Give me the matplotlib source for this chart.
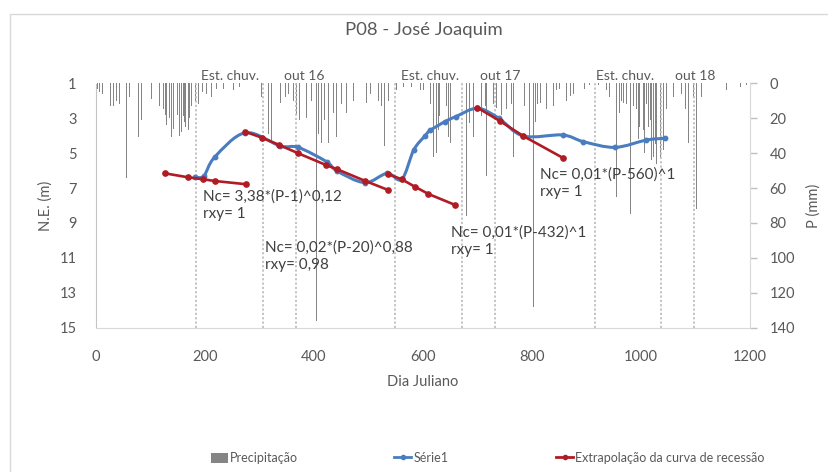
import numpy as np
import matplotlib
matplotlib.use("Agg")
import matplotlib.pyplot as plt
from matplotlib.path import Path
from matplotlib.patches import PathPatch, Rectangle, Patch
from matplotlib.lines import Line2D

plt.rcParams['font.family'] = ['Lato', 'DejaVu Sans']

# ---------------- data ----------------
precip_day = [2, 7, 12, 26, 32, 37, 43, 56, 62, 68, 78, 84, 99, 102, 117, 124, 127, 130, 135, 139,
              142, 145, 149, 153, 157, 160, 163, 165, 169, 172, 176, 182, 188, 196, 203, 212, 221, 234, 252, 264,
              304, 310, 316, 322, 332, 338, 347, 353, 362, 368, 373, 378, 386, 395, 404, 408, 414, 420, 426, 435,
              442, 451, 460, 466, 472, 488, 497, 503, 512, 518, 524, 530, 536, 552, 564, 579, 595, 601,
              613, 620, 625, 628, 631, 643, 646, 650, 668, 680, 686, 692, 699, 708, 714, 717, 729, 735, 744, 754,
              763, 766, 778, 787, 796, 802, 806, 810, 815, 827, 839, 845, 851, 864, 870, 876, 897, 906, 922, 937,
              943, 955, 961, 965, 968, 974, 980, 986, 989, 992, 995, 998, 1004, 1007, 1010, 1013, 1017, 1020, 1023,
              1026, 1029, 1035, 1041, 1044, 1047, 1059, 1075, 1081, 1087, 1096, 1102, 1111, 1121, 1145, 1157, 1182, 1194]
precip_mm = [3, 5, 6, 13, 13, 10, 12, 54, 8, 10, 31, 21, 10, 9, 13, 15, 18, 24, 20, 31,
             26, 23, 18, 30, 28, 19, 22, 25, 27, 20, 13, 10, 12, 5, 6, 8, 3, 3, 4, 2,
             8, 42, 29, 33, 15, 11, 8, 6, 10, 18, 21, 25, 20, 10, 136, 29, 34, 21, 34, 17,
             31, 12, 17, 25, 10, 12, 11, 6, 8, 10, 13, 36, 10, 4, 2, 2, 4, 4,
             12, 42, 40, 27, 19, 13, 31, 34, 21, 76, 23, 31, 25, 19, 13, 53, 12, 14, 18, 15,
             12, 42, 15, 13, 31, 128, 22, 12, 11, 15, 13, 4, 3, 10, 7, 6, 3, 1, 1, 4,
             8, 65, 17, 10, 11, 12, 75, 13, 15, 15, 32, 25, 27, 40, 12, 25, 21, 44, 42,
             35, 46, 42, 38, 23, 15, 8, 6, 15, 34, 8, 72, 8, 4, 8, 4, 2, 1]

serie_day = [182, 198, 218, 274, 338, 371, 423, 442, 493, 534, 561, 583, 604, 613, 640, 660,
             700, 739, 784, 856, 894, 952, 1010, 1044]
serie_ne = [6.38, 6.3, 5.22, 3.83, 4.59, 4.67, 5.49, 6.02, 6.69, 6.16, 6.5, 4.82, 4.0, 3.7, 3.2, 2.91,
            2.43, 3.0, 4.02, 3.96, 4.34, 4.67, 4.25, 4.15]

rec1_day = [127, 168, 197, 219, 275]
rec1_ne = [6.16, 6.38, 6.5, 6.6, 6.78]
rec2_day = [273, 304, 336, 371, 422, 443, 493, 535]
rec2_ne = [3.77, 4.11, 4.53, 5.01, 5.68, 5.93, 6.58, 7.1]
rec3_day = [536, 561, 585, 610, 659]
rec3_ne = [6.2, 6.5, 6.92, 7.34, 7.97]
rec4_day = [700, 741, 784, 856]
rec4_ne = [2.4, 3.16, 4.02, 5.26]

season_lines = [183, 306, 367, 549, 671, 733, 915, 1036, 1097]
season_labels = ["Est. chuv.", "out 16", "Est. chuv.", "out 17", "Est. chuv.", "out 18"]
season_label_day = [246, 383, 613, 742, 970, 1100]

eq_texts = ["Nc= 3,38*(P-1)^0,12\nrxy= 1",
            "Nc= 0,02*(P-20)^0,88\nrxy= 0,98",
            "Nc= 0,01*(P-432)^1\nrxy= 1",
            "Nc= 0,01*(P-560)^1\nrxy= 1"]
eq_day = [196, 310, 652, 815]
eq_ne = [7.97, 10.89, 10.07, 6.73]

x_ticks = [0, 200, 400, 600, 800, 1000, 1200]
ne_ticks = [1, 3, 5, 7, 9, 11, 13, 15]
p_ticks = [0, 20, 40, 60, 80, 100, 120, 140]

legend_labels = ['Precipitação', 'Série1', 'Extrapolação da curva de recessão']

# ---------------- figure ----------------
W, H = 829, 472
fig = plt.figure(figsize=(W / 100, H / 100), dpi=100)
fig.patch.set_facecolor('white')

# outer frame of the chart
fig.patches.append(Rectangle((10 / W, -0.01), 1.0, (H - 14) / H + 0.01, transform=fig.transFigure,
                             fill=False, edgecolor='#D9D9D9', linewidth=1.0))

left, right = 96 / W, 750 / W
top, bottom = (H - 83.3) / H, (H - 327.7) / H
ax = fig.add_axes([left, bottom, right - left, top - bottom])
ax2 = ax.twinx()
ax.set_zorder(ax2.get_zorder() + 1)
ax.patch.set_visible(False)

grey_txt = '#595959'
bar_col = '#858585'

# precipitation on right axis (inverted)
ax2.bar(precip_day, precip_mm, width=1.6, color=bar_col, linewidth=0, align='center')
ax2.set_ylim(140, 0)
ax2.set_yticks(p_ticks)
ax2.tick_params(axis='y', colors='#BFBFBF', labelcolor=grey_txt, labelsize=10.5,
                length=5, width=1, pad=9)
ax2.set_ylabel('P (mm)', color=grey_txt, fontsize=10.5, labelpad=8)
for s in ['top', 'left', 'bottom']:
    ax2.spines[s].set_visible(False)
ax2.spines['right'].set_color('#D9D9D9')

# primary axis
ax.set_xlim(0, 1200)
ax.set_ylim(15, 1)
ax.set_xticks(x_ticks)
ax.set_yticks(ne_ticks)
ax.tick_params(axis='both', length=0, labelcolor=grey_txt, labelsize=10.5)
ax.tick_params(axis='x', pad=16)
ax.tick_params(axis='y', pad=14)
ax.spines['top'].set_visible(False)
ax.spines['right'].set_visible(False)
ax.spines['bottom'].set_color('#D9D9D9')
ax.spines['left'].set_color('#BFBFBF')
ax.spines['left'].set_linestyle((0, (1.2, 1.2)))
ax.set_ylabel('N.E. (m)', color=grey_txt, fontsize=10.5, labelpad=5)
ax.set_xlabel('Dia Juliano', color=grey_txt, fontsize=10.5, labelpad=8)

# season dotted lines
for d in season_lines:
    ax.axvline(d, color='#BFBFBF', linestyle=(0, (1.2, 1.2)), linewidth=1.3, zorder=1)

for lab, d in zip(season_labels, season_label_day):
    ax.text(d, 1.03, lab, transform=ax.get_xaxis_transform(), ha='center', va='center',
            fontsize=10, color=grey_txt)


def smooth_path(xs, ys):
    pts = np.column_stack([xs, ys]).astype(float)
    n = len(pts)
    verts = [pts[0]]
    codes = [Path.MOVETO]
    for i in range(n - 1):
        p0 = pts[i - 1] if i > 0 else pts[i]
        p1 = pts[i]
        p2 = pts[i + 1]
        p3 = pts[i + 2] if i + 2 < n else pts[i + 1]
        c1 = p1 + (p2 - p0) / 6.0
        c2 = p2 - (p3 - p1) / 6.0
        verts += [c1, c2, p2]
        codes += [Path.CURVE4] * 3
    return Path(verts, codes)


blue = '#4A7DC0'
red = '#B01C24'

ax.add_patch(PathPatch(smooth_path(serie_day, serie_ne), fill=False, edgecolor=blue,
                       linewidth=2.2, zorder=4, capstyle='round', joinstyle='round'))
ax.plot(serie_day, serie_ne, linestyle='none', marker='o', markersize=3.2,
        color=blue, zorder=5)

for dd, nn in [(rec1_day, rec1_ne), (rec2_day, rec2_ne), (rec3_day, rec3_ne), (rec4_day, rec4_ne)]:
    ax.plot(dd, nn, color=red, linewidth=1.9, marker='o', markersize=3.8, zorder=6)

for t, d, n in zip(eq_texts, eq_day, eq_ne):
    ax.text(d, n, t, ha='left', va='center', fontsize=11, color='#404040',
            linespacing=1.3, zorder=7)

fig.text(0.511, 0.936, 'P08 - José Joaquim', ha='center', va='center', fontsize=13.3, color=grey_txt)

handles = [Patch(facecolor=bar_col, edgecolor='none'),
           Line2D([], [], color=blue, linewidth=2, marker='o', markersize=3),
           Line2D([], [], color=red, linewidth=2, marker='o', markersize=3)]
legend_x = [211, 394, 556]
for h, lab, lx in zip(handles, legend_labels, legend_x):
    lg = fig.legend([h], [lab], loc='center left', bbox_to_anchor=(lx / W, (H - 458) / H),
                    frameon=False, fontsize=9.0, handlelength=1.4, handletextpad=0.15,
                    borderpad=0, borderaxespad=0, handleheight=0.9)
    for t in lg.get_texts():
        t.set_color(grey_txt)

fig.savefig('out.png', dpi=100, facecolor='white')
